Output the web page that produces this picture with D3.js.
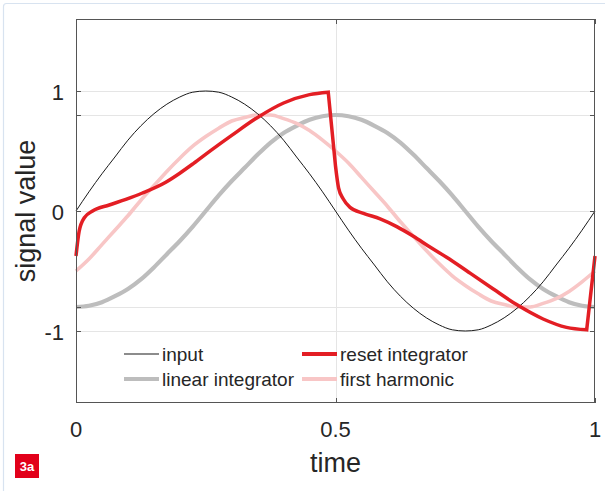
<!DOCTYPE html>
<html>
<head>
<meta charset="utf-8">
<script src="https://cdn.jsdelivr.net/npm/d3@7"></script>
<style>
  html, body { margin: 0; padding: 0; background: #fff; }
  svg { display: block; }
  text { font-family: "Liberation Sans", Arial, Helvetica, sans-serif; fill: #262626; }
</style>
</head>
<body>
<svg id="chart" width="605" height="491"></svg>
<script>
// Shared time grid for the smooth signals
const time = [0, 0.025, 0.05, 0.075, 0.1, 0.125, 0.15, 0.175, 0.2, 0.225,
  0.25, 0.275, 0.3, 0.325, 0.35, 0.375, 0.4, 0.425, 0.45, 0.475,
  0.5, 0.525, 0.55, 0.575, 0.6, 0.625, 0.65, 0.675, 0.7, 0.725,
  0.75, 0.775, 0.8, 0.825, 0.85, 0.875, 0.9, 0.925, 0.95, 0.975, 1];

const inputValues = [0, 0.16, 0.31, 0.45, 0.59, 0.71, 0.81, 0.89, 0.95, 0.99,
  1, 0.99, 0.95, 0.89, 0.81, 0.71, 0.59, 0.45, 0.31, 0.16,
  0, -0.16, -0.31, -0.45, -0.59, -0.71, -0.81, -0.89, -0.95, -0.99,
  -1, -0.99, -0.95, -0.89, -0.81, -0.71, -0.59, -0.45, -0.31, -0.16, 0];

const linearValues = [-0.8, -0.79, -0.76, -0.71, -0.65, -0.57, -0.47, -0.36, -0.25, -0.13,
  0, 0.13, 0.25, 0.36, 0.47, 0.57, 0.65, 0.71, 0.76, 0.79,
  0.8, 0.79, 0.76, 0.71, 0.65, 0.57, 0.47, 0.36, 0.25, 0.13,
  0, -0.13, -0.25, -0.36, -0.47, -0.57, -0.65, -0.71, -0.76, -0.79, -0.8];

const harmonicValues = [-0.5, -0.4, -0.28, -0.16, -0.04, 0.09, 0.21, 0.33, 0.44, 0.54,
  0.62, 0.69, 0.75, 0.78, 0.8, 0.8, 0.77, 0.73, 0.67, 0.59,
  0.5, 0.4, 0.28, 0.16, 0.04, -0.09, -0.21, -0.33, -0.44, -0.54,
  -0.62, -0.69, -0.75, -0.78, -0.8, -0.8, -0.77, -0.73, -0.67, -0.59, -0.5];

// Reset integrator has its own, denser sampling around the resets
const resetTime = [0, 0.006, 0.016, 0.032, 0.064, 0.096, 0.128, 0.173, 0.2, 0.226,
  0.26, 0.3, 0.35, 0.4, 0.45, 0.486, 0.5, 0.506, 0.515, 0.528,
  0.554, 0.586, 0.618, 0.65, 0.682, 0.714, 0.74, 0.76, 0.804, 0.849,
  0.9, 0.945, 0.984, 1];
const resetValues = [-0.375, -0.17, -0.056, 0, 0.05, 0.097, 0.15, 0.24, 0.315, 0.395,
  0.505, 0.63, 0.78, 0.9, 0.97, 0.99, 0.375, 0.19, 0.1, 0.03,
  -0.02, -0.065, -0.13, -0.21, -0.3, -0.385, -0.46, -0.52, -0.65, -0.78,
  -0.9, -0.97, -0.99, -0.375];
// Instants where the integrator is reset (drawn as straight drops)
const resetInstants = [0.486, 0.984];

const xTicks = [0, 0.5, 1];
const xTickLabels = ["0", "0.5", "1"];
const yTicks = [-1, -0.8, 0, 0.8, 1];
const yLabelled = [-1, 0, 1];
const yTickLabels = ["-1", "0", "1"];

const legendNames = ["input", "reset integrator", "linear integrator", "first harmonic"];

const colors = {
  input: "#1a1a1a",
  reset: "#e31e24",
  linear: "#bdbdbd",
  harmonic: "#f8c6c6"
};

const svg = d3.select("#chart");

// Light page frame
svg.append("rect")
  .attr("x", 3.5).attr("y", 3.5)
  .attr("width", 700).attr("height", 600)
  .attr("rx", 3)
  .attr("fill", "none")
  .attr("stroke", "#d8e3f0")
  .attr("stroke-width", 1.2);

const plot = { left: 76, right: 595, top: 19, bottom: 403 };

const x = d3.scaleLinear().domain([0, 1]).range([plot.left, plot.right]);
const y = d3.scaleLinear().domain([-1.6, 1.6]).range([plot.bottom, plot.top]);

// Grid
const grid = svg.append("g").attr("stroke", "#e5e5e5").attr("stroke-width", 1);
yTicks.forEach(v => {
  grid.append("line")
    .attr("x1", plot.left).attr("x2", plot.right)
    .attr("y1", Math.round(y(v)) + 0.5).attr("y2", Math.round(y(v)) + 0.5);
});
xTicks.slice(1, -1).forEach(v => {
  grid.append("line")
    .attr("y1", plot.top).attr("y2", plot.bottom)
    .attr("x1", Math.round(x(v)) + 0.5).attr("x2", Math.round(x(v)) + 0.5);
});

// Series
const seriesLine = d3.line()
  .x(d => x(d[0]))
  .y(d => y(d[1]))
  .curve(d3.curveMonotoneX);

const pairs = vals => time.map((t, i) => [t, vals[i]]);

const lines = svg.append("g").attr("fill", "none").attr("stroke-linejoin", "round");

lines.append("path")
  .attr("d", seriesLine(pairs(linearValues)))
  .attr("stroke", colors.linear).attr("stroke-width", 4.2);

lines.append("path")
  .attr("d", seriesLine(pairs(harmonicValues)))
  .attr("stroke", colors.harmonic).attr("stroke-width", 3.6);

lines.append("path")
  .attr("d", seriesLine(pairs(inputValues)))
  .attr("stroke", colors.input).attr("stroke-width", 1);

// Reset integrator: smooth pieces joined by straight drops at each reset
const resetPts = resetTime.map((t, i) => [t, resetValues[i]]);
const pieces = [];
let current = [];
resetPts.forEach((p, i) => {
  current.push(p);
  if (resetInstants.includes(p[0]) && i + 1 < resetPts.length) {
    pieces.push({ pts: current, curved: true });
    pieces.push({ pts: [p, resetPts[i + 1]], curved: false });
    current = [];
  }
});
if (current.length > 1) pieces.push({ pts: current, curved: true });
const straight = d3.line().x(d => x(d[0])).y(d => y(d[1]));
const resetPath = pieces.map((pc, i) => {
  const d = pc.curved ? seriesLine(pc.pts) : straight(pc.pts);
  return i === 0 ? d : "L" + d.slice(1);
}).join("");
lines.append("path")
  .attr("d", resetPath)
  .attr("stroke", colors.reset).attr("stroke-width", 3.5)
  .attr("stroke-linejoin", "miter");

// Axes frame and inner ticks
const frame = svg.append("g").attr("stroke", "#555").attr("stroke-width", 1).attr("fill", "none");
frame.append("rect")
  .attr("x", plot.left + 0.5).attr("y", plot.top + 0.5)
  .attr("width", plot.right - plot.left - 1).attr("height", plot.bottom - plot.top - 1);
const tickLen = 5;
yTicks.forEach(v => {
  const yy = Math.round(y(v)) + 0.5;
  frame.append("line").attr("x1", plot.left).attr("x2", plot.left + tickLen).attr("y1", yy).attr("y2", yy);
  frame.append("line").attr("x1", plot.right - tickLen).attr("x2", plot.right).attr("y1", yy).attr("y2", yy);
});
xTicks.forEach(v => {
  const xx = Math.round(x(v)) + 0.5;
  frame.append("line").attr("x1", xx).attr("x2", xx).attr("y1", plot.top).attr("y2", plot.top + tickLen);
  frame.append("line").attr("x1", xx).attr("x2", xx).attr("y1", plot.bottom - tickLen).attr("y2", plot.bottom);
});

// Tick labels
svg.append("g").selectAll("text")
  .data(xTicks)
  .join("text")
  .attr("x", d => x(d))
  .attr("y", 437)
  .attr("text-anchor", "middle")
  .attr("font-size", 22)
  .text((d, i) => xTickLabels[i]);

svg.append("g").selectAll("text")
  .data(yLabelled)
  .join("text")
  .attr("x", 64)
  .attr("y", d => y(d) + 9)
  .attr("text-anchor", "end")
  .attr("font-size", 22)
  .text((d, i) => yTickLabels[i]);

// Axis titles
svg.append("text")
  .attr("x", x(0.5)).attr("y", 472)
  .attr("text-anchor", "middle")
  .attr("font-size", 27)
  .text("time");

svg.append("text")
  .attr("transform", `translate(35, ${y(0)}) rotate(-90)`)
  .attr("text-anchor", "middle")
  .attr("font-size", 27)
  .text("signal value");

// Legend
const legendItems = [
  { name: legendNames[0], color: colors.input, width: 1.2, col: 0, row: 0 },
  { name: legendNames[1], color: colors.reset, width: 4, col: 1, row: 0 },
  { name: legendNames[2], color: colors.linear, width: 4, col: 0, row: 1 },
  { name: legendNames[3], color: colors.harmonic, width: 4, col: 1, row: 1 }
];
const legendX = [124, 302];
const legendY = [354, 379];
const legend = svg.append("g");
legendItems.forEach(it => {
  const lx = legendX[it.col], ly = legendY[it.row];
  legend.append("line")
    .attr("x1", lx).attr("x2", lx + 35)
    .attr("y1", ly).attr("y2", ly)
    .attr("stroke", it.color).attr("stroke-width", it.width);
  legend.append("text")
    .attr("x", lx + 38).attr("y", ly + 7)
    .attr("font-size", 19)
    .text(it.name);
});

// Figure badge
const badge = svg.append("g");
badge.append("rect")
  .attr("x", 15).attr("y", 454)
  .attr("width", 24).attr("height", 24)
  .attr("fill", "#e2001a");
badge.append("text")
  .attr("x", 27).attr("y", 470.5)
  .attr("text-anchor", "middle")
  .attr("font-family", "'Open Sans', sans-serif")
  .attr("font-weight", "bold")
  .attr("font-size", 13)
  .style("fill", "#fff")
  .text("3a");
</script>
</body>
</html>
